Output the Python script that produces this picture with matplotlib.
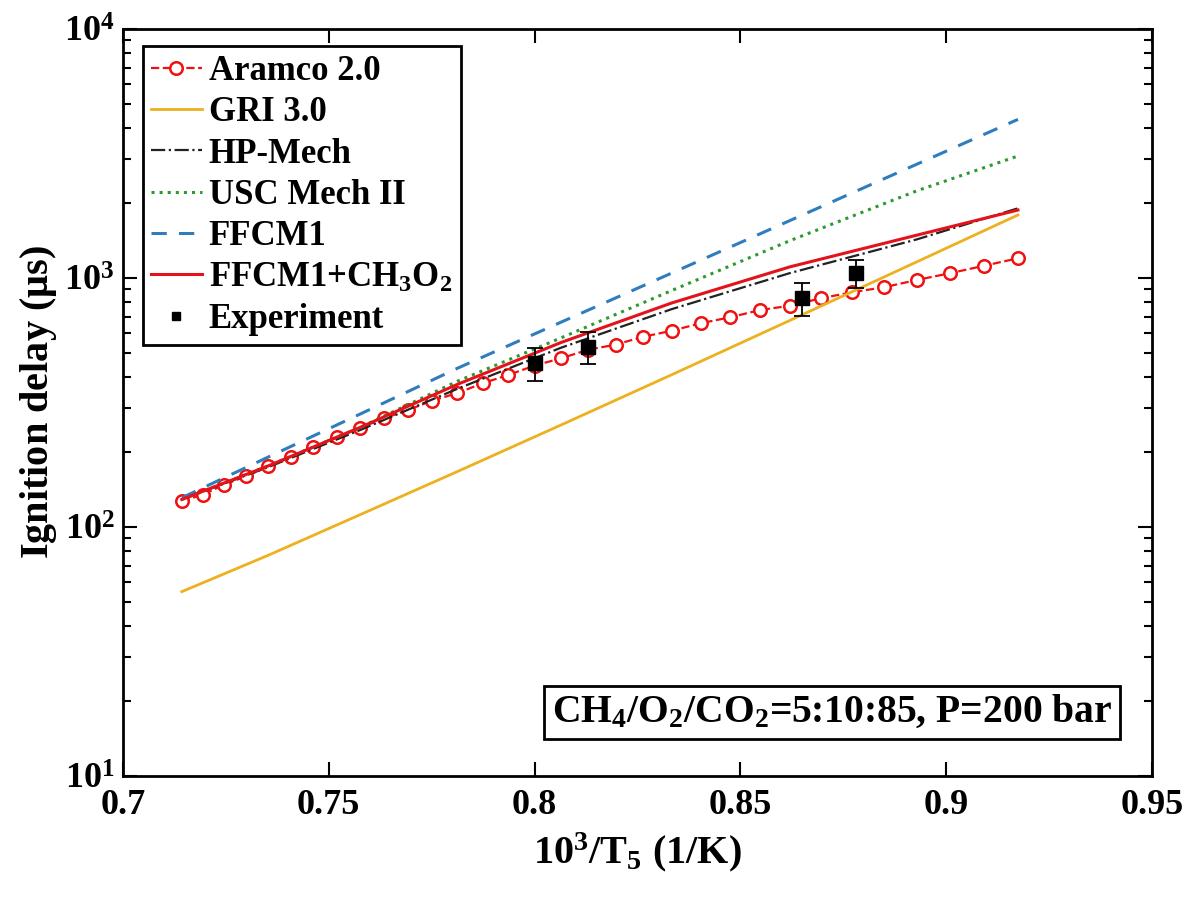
import matplotlib
matplotlib.use('Agg')
import matplotlib.pyplot as plt
import numpy as np

plt.rcParams['font.family'] = 'Liberation Serif'
plt.rcParams['font.weight'] = 'bold'
plt.rcParams['axes.labelweight'] = 'bold'
plt.rcParams['mathtext.fontset'] = 'custom'
plt.rcParams['mathtext.rm'] = 'Liberation Serif:bold'
plt.rcParams['mathtext.bf'] = 'Liberation Serif:bold'
plt.rcParams['mathtext.it'] = 'Liberation Serif:italic:bold'
plt.rcParams['mathtext.default'] = 'rm'

# Aramco 2.0, 10 K steps
T_aramco = [1400, 1390, 1380, 1370, 1360, 1350, 1340, 1330, 1320, 1310, 1300,
            1290, 1280, 1270, 1260, 1250, 1240, 1230, 1220, 1210, 1200, 1190,
            1180, 1170, 1160, 1150, 1140, 1130, 1120, 1110, 1100, 1090]
tau_aramco = [127, 135, 148, 160, 175, 191, 210, 230, 250, 273, 295,
              322, 345, 378, 408, 445, 476, 515, 540, 581, 614, 658,
              695, 743, 774, 829, 877, 918, 982, 1045, 1119, 1200]

# other mechanisms
T_sim = [1400, 1360, 1320, 1280, 1240, 1200, 1160, 1120, 1090]
tau_gri = [55, 77, 112, 167, 257, 409, 676, 1161, 1791]
tau_hp = [129, 174, 245, 359, 525, 750, 1047, 1429, 1905]
tau_usc = [129, 176, 251, 385, 575, 891, 1413, 2239, 3090]
tau_ffcm1 = [131, 191, 284, 434, 665, 1047, 1702, 2864, 4335]
tau_ffcm1_ch3o2 = [129, 176, 251, 374, 551, 794, 1109, 1486, 1875]

# shock tube data
exp_x = [0.800, 0.813, 0.865, 0.878]
exp_tau = [454, 530, 828, 1045]
exp_err = [68, 78, 125, 135]

x_aramco = 1000.0 / np.array(T_aramco)
x_sim = 1000.0 / np.array(T_sim)

fig = plt.figure(figsize=(11.87, 8.99), dpi=100)
ax = fig.add_axes([123/1187, 1-776/899, 1029/1187, 747/899])

ax.plot(x_aramco, tau_aramco, '--o', color='#f01010', lw=1.6, ms=9,
        mew=1.8, mfc='white', label='Aramco 2.0')
ax.plot(x_sim, tau_gri, '-', color='#EDB120', lw=2, label='GRI 3.0')
ax.plot(x_sim, tau_hp, '-.', color='#222222', lw=1.6, label='HP-Mech')
ax.plot(x_sim, tau_usc, ':', color='#2E9A2E', lw=2.2, label='USC Mech II')
ax.plot(x_sim, tau_ffcm1, '--', color='#2F7DBD', lw=2.2, dashes=(5, 4),
        label='FFCM1')
ax.plot(x_sim, tau_ffcm1_ch3o2, '-', color='#E3121B', lw=2.2,
        label='FFCM1+CH$_3$O$_2$')
ax.errorbar(exp_x, exp_tau, yerr=exp_err, fmt='none', ecolor='black',
            elinewidth=1.3, capsize=6, capthick=1.3)
ax.plot(exp_x, exp_tau, 's', color='black', ms=10, label='Experiment')

ax.set_yscale('log')
ax.set_xlim(0.7, 0.95)
ax.set_ylim(10, 10000)
ax.set_xticks([0.7, 0.75, 0.8, 0.85, 0.9, 0.95])
ax.set_xticklabels(['0.7', '0.75', '0.8', '0.85', '0.9', '0.95'])

ax.tick_params(which='both', direction='in', top=True, right=True,
               labelsize=26, width=1.5)
ax.tick_params(which='major', length=10)
ax.tick_params(which='minor', length=6)
ax.tick_params(axis='x', pad=9)
ax.tick_params(axis='y', pad=6)
for s in ax.spines.values():
    s.set_linewidth(2)

ax.set_xlabel('10$^3$/T$_5$ (1/K)', fontsize=29, labelpad=6)
ax.set_ylabel('Ignition delay ($\\mu$s)', fontsize=29, labelpad=4)

leg = ax.legend(loc='upper left', bbox_to_anchor=(0.019, 0.977),
                fontsize=25, handlelength=1.45, handletextpad=0.2,
                labelspacing=0.24, borderpad=0.25, borderaxespad=0.0,
                fancybox=False, framealpha=1, edgecolor='black')
leg.get_frame().set_linewidth(2)
leg.legend_handles[-1].set_markersize(6)

ax.text(0.689, 0.085, 'CH$_4$/O$_2$/CO$_2$=5:10:85, P=200 bar',
        transform=ax.transAxes, fontsize=28.5, fontweight='bold',
        ha='center', va='center',
        bbox=dict(boxstyle='square,pad=0.2', fc='white', ec='black', lw=2))

fig.savefig('out.png', dpi=100)
